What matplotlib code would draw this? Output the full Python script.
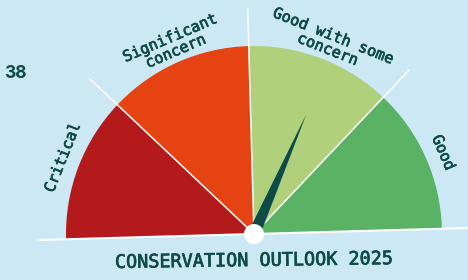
import numpy as np
import matplotlib
matplotlib.use("Agg")
import matplotlib.pyplot as plt
import matplotlib.patheffects as pe
from matplotlib.patches import Wedge, Circle, Polygon

# data
categories = ["Critical", "Significant\nconcern", "Good with some\nconcern", "Good"]
colors = ["#b4191b", "#e64312", "#b0d07b", "#5ab264"]
needle_value = 64      # position on 0-100 scale
score_label = "38"
title = "CONSERVATION OUTLOOK 2025"

bg = "#cce8f5"
ink = "#0d4a48"
mono = ["DejaVu Sans Mono"]
thick = [pe.withStroke(linewidth=0.5, foreground=ink)]

fig = plt.figure(figsize=(4.68, 2.80), dpi=100)
fig.patch.set_facecolor(bg)
ax = fig.add_axes([0, 0, 1, 1])
ax.set_xlim(0, 468)
ax.set_ylim(0, 280)
ax.set_aspect("equal")
ax.axis("off")

cx, cy = 254, 46
r = 188
rot = 1.6
n = len(categories)
step = 180 / n

for i, (lab, col) in enumerate(zip(categories, colors)):
    t2 = 180 - i * step + rot
    t1 = t2 - step
    ax.add_patch(Wedge((cx, cy), r, t1, t2, facecolor=col, edgecolor="none", zorder=2))
    mid = np.radians((t1 + t2) / 2 - 0.8)
    lr = 206
    ax.text(cx + lr * np.cos(mid), cy + lr * np.sin(mid), lab,
            rotation=np.degrees(mid) - 90, rotation_mode="anchor",
            ha="center", va="center", fontsize=11, family=mono,
            color=ink, linespacing=0.95, zorder=5, path_effects=thick)

# separators
for i in range(1, n):
    a = np.radians(180 - i * step + rot)
    ax.plot([cx, cx + 1.2 * r * np.cos(a)], [cy, cy + 1.2 * r * np.sin(a)],
            color="white", lw=1.1, zorder=3)

# baseline
a = np.radians(rot)
ax.plot([cx - 216 * np.cos(a), cx + 216 * np.cos(a)],
        [cy - 216 * np.sin(a), cy + 216 * np.sin(a)],
        color="white", lw=1.5, zorder=3)

# needle
ang = np.radians(180 - needle_value / 100 * 180 + rot)
L = 130
w = 6
perp = ang + np.pi / 2
pts = [(cx + w * np.cos(perp), cy + w * np.sin(perp)),
       (cx + L * np.cos(ang), cy + L * np.sin(ang)),
       (cx - w * np.cos(perp), cy - w * np.sin(perp))]
ax.add_patch(Polygon(pts, closed=True, facecolor=ink, edgecolor="none", zorder=6))
ax.add_patch(Circle((cx, cy), 10, facecolor="white", edgecolor="none", zorder=7))

ax.text(4, 207, score_label, fontsize=12.5, fontweight="bold", color=ink,
        ha="left", va="center", family=["Inter", "DejaVu Sans"])
ax.text(254, 19, title, fontsize=13.3, color=ink, ha="center", va="center",
        family=mono, rotation=0.8, path_effects=[pe.withStroke(linewidth=0.5, foreground=ink)])

fig.savefig("out.png", dpi=100, facecolor=bg)
